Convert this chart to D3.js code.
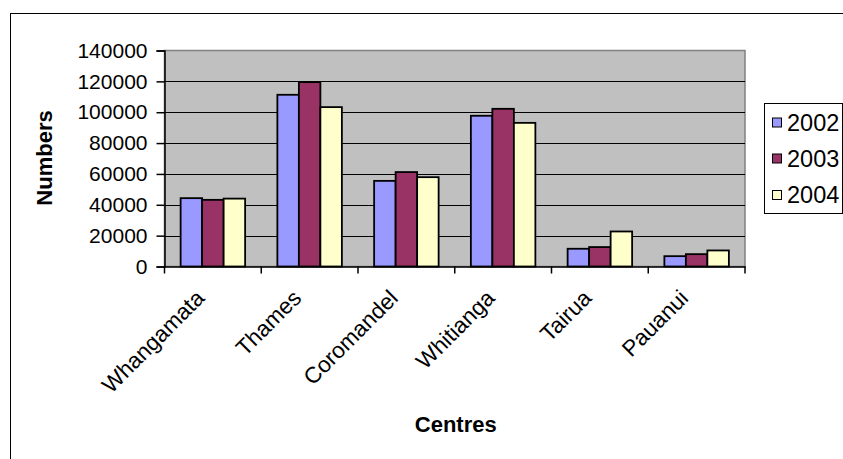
<!DOCTYPE html>
<html>
<head>
<meta charset="utf-8">
<script src="https://cdn.jsdelivr.net/npm/d3@7"></script>
<style>
  html, body { margin: 0; padding: 0; background: #fff; }
  svg { display: block; font-family: Arial, "Liberation Sans", sans-serif; }
</style>
</head>
<body>
<svg id="chart" width="843" height="459"></svg>
<script>
// Visitor numbers by centre, 2002–2004
const centres = ["Whangamata", "Thames", "Coromandel", "Whitianga", "Tairua", "Pauanui"];
const years = ["2002", "2003", "2004"];
const values2002 = [44300, 111300, 55500, 97700, 11500, 6700];
const values2003 = [43200, 119500, 61200, 102200, 12600, 8000];
const values2004 = [44000, 103300, 57900, 93100, 22700, 10400];
const yTicks = [0, 20000, 40000, 60000, 80000, 100000, 120000, 140000];
const colours = ["#9999FF", "#993366", "#FFFFCC"];

const seriesValues = [values2002, values2003, values2004];

const svg = d3.select("#chart");

// outer chart frame (runs off the right and bottom edges)
svg.append("rect")
  .attr("x", 10.5).attr("y", 13.5)
  .attr("width", 860).attr("height", 470)
  .attr("fill", "#fff").attr("stroke", "#000").attr("stroke-width", 1);

const plot = { left: 164.5, right: 745, top: 50.5, bottom: 266.5 };

const x = d3.scaleBand().domain(centres).range([plot.left, plot.right]).padding(0);
const y = d3.scaleLinear().domain([0, 140000]).range([plot.bottom, plot.top]);

// plot background
svg.append("rect")
  .attr("x", plot.left).attr("y", plot.top)
  .attr("width", plot.right - plot.left).attr("height", plot.bottom - plot.top)
  .attr("fill", "#C0C0C0").attr("stroke", "#808080").attr("stroke-width", 1.5);

// horizontal gridlines
svg.append("g")
  .selectAll("line")
  .data(yTicks.filter(t => t > 0 && t < 140000))
  .join("line")
  .attr("x1", plot.left).attr("x2", plot.right)
  .attr("y1", d => Math.round(y(d)) + 0.5).attr("y2", d => Math.round(y(d)) + 0.5)
  .attr("stroke", "#000").attr("stroke-width", 1);

// bars: series width = band / (3 + 1.5 gap)
const barW = x.bandwidth() / 4.5;
const gap = barW * 0.75;
const barsG = svg.append("g");
years.forEach((yr, s) => {
  barsG.append("g")
    .selectAll("rect")
    .data(centres.map((c, i) => ({ c, v: seriesValues[s][i] })))
    .join("rect")
    .attr("x", d => x(d.c) + gap + s * barW)
    .attr("y", d => y(d.v))
    .attr("width", barW)
    .attr("height", d => y(0) - y(d.v))
    .attr("fill", colours[s])
    .attr("stroke", "#000")
    .attr("stroke-width", 1.8);
});

// y axis
const yAxis = svg.append("g")
  .attr("transform", `translate(${plot.left},0)`)
  .call(d3.axisLeft(y).tickValues(yTicks).tickFormat(d3.format("d")).tickSize(8).tickPadding(9));
yAxis.select(".domain").attr("stroke", "#000").attr("stroke-width", 1.5);
yAxis.selectAll(".tick line").attr("stroke", "#000").attr("stroke-width", 1.5);
yAxis.selectAll("text").attr("font-size", 21).attr("fill", "#000")
  .attr("font-family", "Arial, 'Liberation Sans', sans-serif");

// x axis
const xAxis = svg.append("g")
  .attr("transform", `translate(0,${plot.bottom})`)
  .call(d3.axisBottom(x).tickSize(0).tickFormat(""));
xAxis.select(".domain").attr("stroke", "#000").attr("stroke-width", 1.5);
// category boundary ticks
svg.append("g")
  .selectAll("line")
  .data(centres.map(c => x(c)).concat([plot.right]))
  .join("line")
  .attr("x1", d => d).attr("x2", d => d)
  .attr("y1", plot.bottom).attr("y2", plot.bottom + 7)
  .attr("stroke", "#000").attr("stroke-width", 1.5);

// rotated category labels
svg.append("g")
  .selectAll("text")
  .data(centres)
  .join("text")
  .attr("transform", d => `translate(${x(d) + x.bandwidth() / 2 - 7},${plot.bottom + 33}) rotate(-45)`)
  .attr("text-anchor", "end")
  .attr("font-size", 22.5)
  .attr("fill", "#000")
  .text(d => d);

// axis titles
svg.append("text")
  .attr("x", (plot.left + plot.right) / 2 + 1)
  .attr("y", 432)
  .attr("text-anchor", "middle")
  .attr("font-size", 22).attr("font-weight", "bold")
  .text("Centres");

svg.append("text")
  .attr("transform", `translate(52,158) rotate(-90)`)
  .attr("text-anchor", "middle")
  .attr("font-size", 22).attr("font-weight", "bold")
  .text("Numbers");

// legend
const legend = svg.append("g");
legend.append("rect")
  .attr("x", 764.5).attr("y", 103.5)
  .attr("width", 78).attr("height", 110)
  .attr("fill", "#fff").attr("stroke", "#000").attr("stroke-width", 1);
const rowY = [122.5, 158.5, 195];
years.forEach((yr, s) => {
  legend.append("rect")
    .attr("x", 772.5).attr("y", rowY[s] - 4.5)
    .attr("width", 9).attr("height", 9)
    .attr("fill", colours[s]).attr("stroke", "#000").attr("stroke-width", 1);
  legend.append("text")
    .attr("x", 787).attr("y", rowY[s])
    .attr("dy", "0.35em")
    .attr("font-size", 23.5)
    .text(yr);
});
</script>
</body>
</html>
